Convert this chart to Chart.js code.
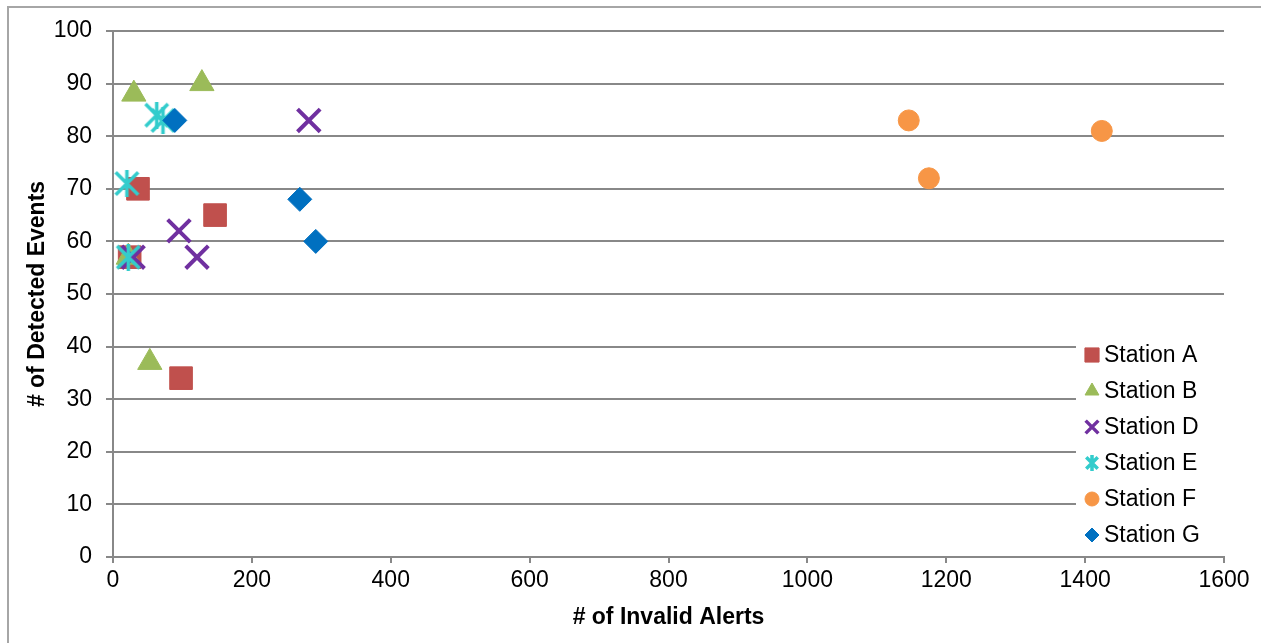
<!DOCTYPE html>
<html>
<head>
<meta charset="utf-8">
<script src="https://cdn.jsdelivr.net/npm/chart.js@4.4.1/dist/chart.umd.min.js"></script>
<style>
  html, body { margin: 0; padding: 0; background: #fff; }
  #wrap { position: relative; width: 1261px; height: 643px; }
  #frame { position: absolute; left: 7px; top: 6px; right: 0; bottom: 0;
           border-left: 2px solid #a6a6a6; border-top: 2px solid #a6a6a6; pointer-events: none; }
</style>
</head>
<body>
<div id="wrap">
  <canvas id="chart" width="1261" height="643"></canvas>
  <div id="frame"></div>
</div>
<script>
// values: [invalid alerts, detected events]
const stationNames = ['Station A', 'Station B', 'Station D', 'Station E', 'Station F', 'Station G'];
const stationA = [[36, 70], [147, 65], [98, 34], [24, 57]];
const stationB = [[30, 88], [128, 90], [53, 37], [22, 57]];
const stationD = [[282, 83], [95, 62], [121, 57], [29, 57]];
const stationE = [[63, 84], [72, 83], [20, 71], [22, 57]];
const stationF = [[1146, 83], [1175, 72], [1424, 81]];
const stationG = [[89, 83], [269, 68], [292, 60]];
const xTicks = [0, 200, 400, 600, 800, 1000, 1200, 1400, 1600];
const yTicks = [0, 10, 20, 30, 40, 50, 60, 70, 80, 90, 100];

const allData = [stationA, stationB, stationD, stationE, stationF, stationG];
const colors = ['#C0504D', '#9BBB59', '#7030A0', '#33CCCC', '#F79646', '#0070C0'];

// excel style asterisk: an X with a vertical bar
function asterisk(size, lw, color) {
  const c = document.createElement('canvas');
  c.width = size; c.height = size;
  const g = c.getContext('2d');
  const m = lw / 2 + 0.5;
  g.strokeStyle = color;
  g.lineWidth = lw;
  g.beginPath();
  g.moveTo(m, m); g.lineTo(size - m, size - m);
  g.moveTo(size - m, m); g.lineTo(m, size - m);
  g.moveTo(size / 2, 0); g.lineTo(size / 2, size);
  g.stroke();
  return c;
}

const styles = ['rect', 'triangle', 'crossRot', asterisk(27, 3.5, colors[3]), 'circle', 'rectRot'];
const legendStyles = ['rect', 'triangle', 'crossRot', asterisk(16, 3.5, colors[3]), 'circle', 'rectRot'];
const radii = [16, 14, 16, 14, 10.5, 12];
const borders = [1, 1, 4, 1, 1, 1];
const legendRadii = [10, 8, 9, 8, 7, 7];
const legendBorders = [1, 1, 3.5, 1, 1, 1];

// later series sit on top, as in the original
const datasets = allData.map((pts, i) => ({
  label: stationNames[i],
  data: pts.map(p => ({ x: p[0], y: p[1] })),
  order: allData.length - i,
  pointStyle: styles[i],
  pointRadius: radii[i],
  pointHoverRadius: radii[i],
  backgroundColor: colors[i],
  borderColor: colors[i],
  pointBorderWidth: borders[i],
  borderWidth: borders[i]
}));

const FONT = '"Liberation Sans", Arial, sans-serif';

// legend drawn inside the plot area with a white box behind it
const insideLegend = {
  id: 'insideLegend',
  afterDatasetsDraw(chart) {
    const ctx = chart.ctx;
    ctx.save();
    ctx.fillStyle = '#fff';
    ctx.fillRect(1076, 336, 150, 218);
    ctx.font = '23px ' + FONT;
    ctx.textBaseline = 'middle';
    ctx.textAlign = 'left';
    stationNames.forEach((name, i) => {
      const y = 355 + i * 36;
      ctx.fillStyle = colors[i];
      ctx.strokeStyle = colors[i];
      ctx.lineWidth = legendBorders[i];
      Chart.helpers.drawPoint(ctx, { pointStyle: legendStyles[i], radius: legendRadii[i], borderWidth: legendBorders[i] }, 1092, y);
      ctx.fillStyle = '#000';
      ctx.fillText(name, 1104, y + 1);
    });
    ctx.restore();
  }
};

new Chart(document.getElementById('chart'), {
  type: 'scatter',
  data: { datasets: datasets },
  plugins: [insideLegend],
  options: {
    responsive: false,
    animation: false,
    layout: { padding: { left: 20, top: 31, right: 37, bottom: 8 } },
    plugins: {
      legend: { display: false },
      tooltip: { enabled: false }
    },
    scales: {
      x: {
        type: 'linear',
        min: 0, max: 1600,
        afterFit: s => { s.height = 78; },
        afterBuildTicks: s => { s.ticks = xTicks.map(v => ({ value: v })); },
        grid: { drawOnChartArea: false, drawTicks: true, tickLength: 6, color: '#888', lineWidth: 2 },
        border: { color: '#888', width: 2 },
        ticks: { color: '#000', font: { size: 23, family: FONT }, padding: 4, maxRotation: 0,
                 callback: v => String(v) },
        title: { display: true, text: '# of Invalid Alerts', color: '#000',
                 font: { size: 23, weight: 'bold', family: FONT }, padding: { top: 10 } }
      },
      y: {
        min: 0, max: 100,
        afterFit: s => { s.width = 93; },
        afterBuildTicks: s => { s.ticks = yTicks.map(v => ({ value: v })); },
        grid: { color: '#888', lineWidth: 2, tickLength: 7 },
        border: { color: '#888', width: 2 },
        ticks: { color: '#000', font: { size: 23, family: FONT }, padding: 14,
                 callback: v => String(v) },
        title: { display: true, text: '# of Detected Events', color: '#000',
                 font: { size: 23, weight: 'bold', family: FONT }, padding: { bottom: 0 } }
      }
    }
  }
});
</script>
</body>
</html>
